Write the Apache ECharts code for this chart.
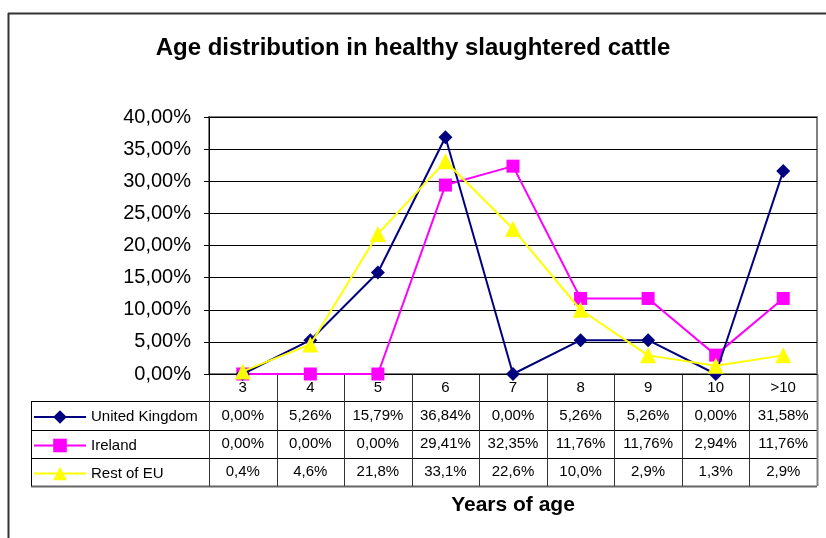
<!DOCTYPE html>
<html lang="en">
<head>
<meta charset="UTF-8">
<title>Age distribution in healthy slaughtered cattle</title>
<style>
  html, body { margin: 0; padding: 0; background: #fff; }
  #main { width: 826px; height: 538px; }
</style>
</head>
<body>
<div id="main"></div>
<script src="https://cdn.jsdelivr.net/npm/echarts@6/dist/echarts.min.js"></script>
<script>
// data (percent)
var categories = ['3', '4', '5', '6', '7', '8', '9', '10', '>10'];
var ukValues = [0.00, 5.26, 15.79, 36.84, 0.00, 5.26, 5.26, 0.00, 31.58];
var irelandValues = [0.00, 0.00, 0.00, 29.41, 32.35, 11.76, 11.76, 2.94, 11.76];
var restValues = [0.4, 4.6, 21.8, 33.1, 22.6, 10.0, 2.9, 1.3, 2.9];
var seriesNames = ['United Kingdom', 'Ireland', 'Rest of EU'];
var yMin = 0, yMax = 40, yStep = 5;

var FONT = '"Liberation Sans", Arial, sans-serif';
var chart = echarts.init(document.getElementById('main'));

function pct(v, d) {
  return v.toFixed(d).replace('.', ',') + '%';
}

// table rows, relative to the x axis line
var rowOffsets = [27, 56, 84, 112];
var plotBottom = 538 - 164;

// one legend per table row so each key sits in its own row
var legends = seriesNames.map(function (name, r) {
  var cy = plotBottom + (rowOffsets[r] + rowOffsets[r + 1]) / 2;
  return {
    orient: 'vertical',
    left: 33,
    top: cy - 6,
    padding: 0,
    itemWidth: 52,
    itemHeight: 17,
    data: [name],
    textStyle: { fontFamily: FONT, fontSize: 15, color: '#000' }
  };
});

var option = {
  backgroundColor: '#fff',
  animation: false,
  title: {
    text: 'Age distribution in healthy slaughtered cattle',
    left: 'center',
    top: 31,
    textStyle: { fontFamily: FONT, fontSize: 24, fontWeight: 'bold', color: '#000' }
  },
  grid: {
    left: 209, right: 9, top: 117, bottom: 164,
    show: true, borderColor: '#808080', borderWidth: 2, backgroundColor: '#fff'
  },
  legend: legends,
  xAxis: {
    type: 'category',
    data: categories,
    boundaryGap: true,
    axisLine: { lineStyle: { color: '#000', width: 1 } },
    axisTick: { show: false },
    axisLabel: { fontFamily: FONT, fontSize: 15, color: '#000', margin: 6 },
    splitLine: { show: false }
  },
  yAxis: {
    type: 'value',
    min: yMin, max: yMax, interval: yStep,
    axisLine: { show: true, lineStyle: { color: '#000', width: 1 } },
    axisTick: { show: true, length: 5, lineStyle: { color: '#000' } },
    axisLabel: {
      fontFamily: FONT, fontSize: 20, color: '#000', margin: 18,
      formatter: function (v) { return pct(v, 2); }
    },
    splitLine: { lineStyle: { color: '#000', width: 1 } }
  },
  series: [
    {
      name: seriesNames[0], type: 'line', data: ukValues,
      symbol: 'diamond', symbolSize: 14,
      itemStyle: { color: '#000080' },
      lineStyle: { color: '#000080', width: 2 }, z: 4
    },
    {
      name: seriesNames[1], type: 'line', data: irelandValues,
      symbol: 'rect', symbolSize: 13,
      itemStyle: { color: '#ff00ff' },
      lineStyle: { color: '#ff00ff', width: 2 }, z: 3
    },
    {
      name: seriesNames[2], type: 'line', data: restValues,
      symbol: 'triangle', symbolSize: 16,
      itemStyle: { color: '#ffff00' },
      lineStyle: { color: '#ffff00', width: 2 }, z: 5
    }
  ]
};
chart.setOption(option);

// data table under the plot
var gridRect = chart.getModel().getComponent('grid').coordinateSystem.getRect();
var step = gridRect.width / categories.length;
var axisY = gridRect.y + gridRect.height;
var rowLines = rowOffsets.map(function (o) { return axisY + o; });
var tableLeft = 31;
var graphics = [];

// outer chart frame
graphics.push({ type: 'line', shape: { x1: 8.5, y1: 13, x2: 8.5, y2: 538 }, style: { stroke: '#333', lineWidth: 2 } });
graphics.push({ type: 'line', shape: { x1: 8, y1: 13.5, x2: 826, y2: 13.5 }, style: { stroke: '#333', lineWidth: 2 } });

rowLines.forEach(function (y, k) {
  graphics.push({
    type: 'line',
    shape: { x1: tableLeft, y1: y + 0.5, x2: gridRect.x + gridRect.width, y2: y + 0.5 },
    style: { stroke: k === rowLines.length - 1 ? '#666' : '#000', lineWidth: k === rowLines.length - 1 ? 2 : 1 }
  });
});
graphics.push({
  type: 'line',
  shape: { x1: tableLeft + 0.5, y1: rowLines[0], x2: tableLeft + 0.5, y2: rowLines[3] },
  style: { stroke: '#000', lineWidth: 1 }
});
for (var i = 0; i <= categories.length; i++) {
  var bx = Math.round(gridRect.x + i * step) + 0.5;
  graphics.push({
    type: 'line',
    shape: { x1: bx, y1: axisY, x2: bx, y2: rowLines[3] },
    style: { stroke: i === categories.length ? '#808080' : '#333', lineWidth: i === categories.length ? 2 : 1 }
  });
}

var rows = [
  { values: ukValues, digits: 2 },
  { values: irelandValues, digits: 2 },
  { values: restValues, digits: 1 }
];
rows.forEach(function (row, r) {
  var cy = (rowLines[r] + rowLines[r + 1]) / 2;
  row.values.forEach(function (v, i) {
    var cx = chart.convertToPixel({ xAxisIndex: 0 }, i);
    graphics.push({
      type: 'text',
      x: cx, y: cy,
      style: {
        text: pct(v, row.digits),
        font: '15px ' + FONT,
        fill: '#000',
        textAlign: 'center',
        textVerticalAlign: 'middle'
      }
    });
  });
});

graphics.push({
  type: 'text',
  x: 513, y: 505,
  style: {
    text: 'Years of age',
    font: 'bold 21px ' + FONT,
    fill: '#000',
    textAlign: 'center',
    textVerticalAlign: 'middle'
  }
});

chart.setOption({ graphic: graphics });
</script>
</body>
</html>
